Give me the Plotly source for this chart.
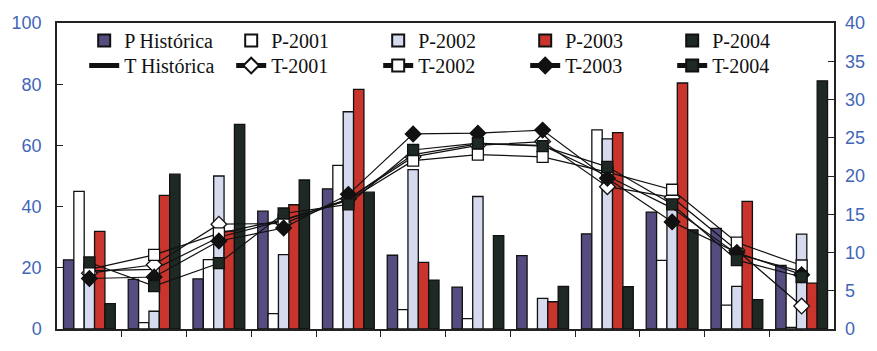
import plotly.graph_objects as go

# Months 1..12 (bars and temperature points at month centres)
months = list(range(1, 13))

# Monthly precipitation (left axis)
p_hist = [22.6, 16.2, 16.4, 38.5, 45.8, 24.1, 13.7, 24.0, 31.1, 38.2, 32.9, 20.8]
p_2001 = [45.0, 2.1, 22.7, 5.0, 53.5, 6.3, 3.4, 0.0, 65.1, 22.4, 7.8, 0.5]
p_2002 = [20.0, 5.8, 50.0, 24.3, 71.0, 52.1, 43.3, 10.0, 62.1, 46.0, 13.9, 31.0]
p_2003 = [31.9, 43.7, 32.0, 40.6, 78.3, 21.8, 0.0, 8.9, 64.2, 80.4, 41.7, 15.0]
p_2004 = [8.3, 50.6, 66.9, 48.7, 44.7, 16.0, 30.5, 13.9, 13.8, 32.4, 9.6, 81.1]

# Monthly mean temperature (right axis)
t_hist = [7.6, 7.8, 12.0, 14.2, 17.0, 22.8, 24.2, 24.0, 20.0, 15.8, 9.8, 7.5]
t_2001 = [7.3, 8.4, 13.7, 13.8, 17.0, 22.5, 24.0, 24.5, 18.6, 17.2, 10.3, 3.0]
t_2002 = [7.8, 9.7, 12.5, 14.3, 16.8, 22.0, 22.8, 22.5, 20.5, 18.2, 11.3, 8.3]
t_2003 = [6.6, 6.8, 11.5, 13.2, 17.6, 25.5, 25.6, 26.0, 19.7, 14.0, 10.0, 7.1]
t_2004 = [8.7, 5.6, 8.6, 15.1, 16.3, 23.4, 24.3, 23.9, 21.2, 16.3, 9.0, 6.8]

# Axis ticks
p_ticks = [0, 20, 40, 60, 80, 100]
t_ticks = [0, 5, 10, 15, 20, 25, 30, 35, 40]
month_bounds = [m + 0.5 for m in months[:-1]]

axis_blue = "#4166b8"
serif = "Times New Roman"
sans = "Liberation Sans"

fig = go.Figure()

bar_series = [
    ("P Histórica", p_hist, "#574c80"),
    ("P-2001", p_2001, "#ffffff"),
    ("P-2002", p_2002, "#d6daef"),
    ("P-2003", p_2003, "#c9352d"),
    ("P-2004", p_2004, "#1e2923"),
]
for name, vals, color in bar_series:
    fig.add_trace(go.Bar(
        x=months, y=vals, name=name, legend="legend",
        marker=dict(color=color, line=dict(color="#111111", width=1.3)),
    ))

line_series = [
    ("T Histórica", t_hist, None, None),
    ("T-2001", t_2001, "diamond", "#ffffff"),
    ("T-2002", t_2002, "square", "#ffffff"),
    ("T-2003", t_2003, "diamond", "#111111"),
    ("T-2004", t_2004, "square", "#1e2923"),
]
for name, vals, symbol, fill in line_series:
    if symbol is None:
        fig.add_trace(go.Scatter(
            x=months, y=vals, name=name, yaxis="y2", mode="lines",
            legend="legend2", line=dict(color="#111111", width=1.2),
        ))
    else:
        fig.add_trace(go.Scatter(
            x=months, y=vals, name=name, yaxis="y2", mode="lines+markers",
            legend="legend2", line=dict(color="#111111", width=1.2),
            marker=dict(symbol=symbol, size=12 if symbol == "diamond" else 11,
                        color=fill, line=dict(color="#111111", width=1.3)),
        ))

legend_style = dict(
    orientation="h", x=0.035, xanchor="left", yanchor="middle",
    entrywidth=102, entrywidthmode="pixels", traceorder="normal",
    font=dict(family=serif, size=20, color="#111111"),
    bgcolor="rgba(0,0,0,0)", itemsizing="constant", tracegroupgap=0,
)

fig.update_layout(
    width=877, height=351,
    margin=dict(l=57, r=41, t=23, b=12),
    paper_bgcolor="white", plot_bgcolor="white",
    barmode="group", bargap=0.2, bargroupgap=0,
    showlegend=True,
    legend=dict(legend_style, y=0.943),
    legend2=dict(legend_style, y=0.861),
    xaxis=dict(
        range=[0.5, 12.5], tickvals=month_bounds, showticklabels=False,
        ticks="outside", ticklen=6, tickcolor="#222222", tickwidth=1.2,
        showline=True, linecolor="#222222", linewidth=1.5, mirror=True,
        showgrid=False, zeroline=False,
    ),
    # second copy of the month axis: inward half of the crossing month ticks
    xaxis2=dict(
        overlaying="x", side="bottom", anchor="y",
        range=[0.5, 12.5], tickvals=month_bounds, showticklabels=False,
        ticks="inside", ticklen=6, tickcolor="#222222", tickwidth=1.2,
        showline=False, showgrid=False, zeroline=False,
    ),
    yaxis=dict(
        range=[0, 100], tickvals=p_ticks, ticks="inside", ticklen=6,
        tickcolor="#222222", tickwidth=1.2,
        showline=True, linecolor="#222222", linewidth=1.5, mirror=True,
        showgrid=False, zeroline=False,
        tickfont=dict(family=sans, size=18, color=axis_blue),
        ticklabelstandoff=10,
    ),
    yaxis2=dict(
        range=[0, 40], tickvals=t_ticks, overlaying="y", side="right",
        ticks="inside", ticklen=6, tickcolor="#222222", tickwidth=1.2,
        showgrid=False, zeroline=False, showline=False,
        tickfont=dict(family=sans, size=18, color=axis_blue),
        ticklabelstandoff=10,
    ),
)

fig.write_html("out.html")
